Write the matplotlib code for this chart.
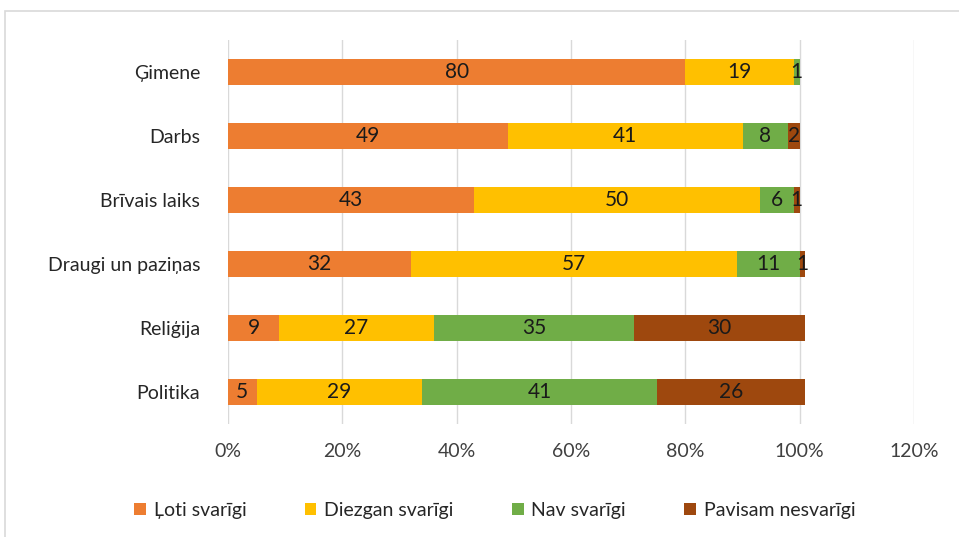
import numpy as np
import matplotlib.pyplot as plt
from matplotlib.patches import Rectangle

# categories top to bottom
categories = ["Ģimene", "Darbs", "Brīvais laiks", "Draugi un paziņas", "Reliģija", "Politika"]
series_names = ["Ļoti svarīgi", "Diezgan svarīgi", "Nav svarīgi", "Pavisam nesvarīgi"]
loti = [80, 49, 43, 32, 9, 5]
diezgan = [19, 41, 50, 57, 27, 29]
nav = [1, 8, 6, 11, 35, 41]
pavisam = [0, 2, 1, 1, 30, 26]
tick_vals = [0, 0.2, 0.4, 0.6, 0.8, 1.0, 1.2]
tick_labels = ["0%", "20%", "40%", "60%", "80%", "100%", "120%"]

colors = ["#ED7D31", "#FFC000", "#70AD47", "#9E480E"]
plt.rcParams['font.family'] = ['Lato', 'DejaVu Sans']

fig = plt.figure(figsize=(9.59, 5.37), dpi=100)
ax = fig.add_axes([0.2377, 0.2104, 0.9531 - 0.2377, 0.9255 - 0.2104])

# outer chart border
fig.patches.append(Rectangle((5 / 959, -0.01), 1.0, 1 - 11 / 537 + 0.01,
                             transform=fig.transFigure, fill=False,
                             edgecolor="#d9d9d9", linewidth=1.2))

y = np.arange(len(categories))
left = np.zeros(len(categories))
for name, vals, col in zip(series_names, [loti, diezgan, nav, pavisam], colors):
    v = np.array(vals) / 100.0
    ax.barh(y, v, left=left, height=0.4, color=col, label=name, zorder=3)
    for yi, (l, w, raw) in enumerate(zip(left, v, vals)):
        if raw > 0:
            ax.text(l + w / 2, yi, str(raw), ha="center", va="center",
                    fontsize=15, color="#1a1a1a", zorder=4)
    left += v

ax.set_xlim(0, 1.2)
ax.set_ylim(len(categories) - 0.5, -0.5)
ax.set_yticks(y)
ax.set_yticklabels(categories, fontsize=14, color="#262626")
ax.set_xticks(tick_vals)
ax.set_xticklabels(tick_labels, fontsize=14, color="#404040")
ax.tick_params(length=0)
ax.tick_params(axis="y", pad=20)
ax.tick_params(axis="x", pad=14)
ax.grid(axis="x", color="#d9d9d9", linewidth=1, zorder=0)
for s in ax.spines.values():
    s.set_visible(False)

fig.legend(loc="center", bbox_to_anchor=(0.516, 0.05), ncol=4, frameon=False,
           fontsize=14, handlelength=0.6, handleheight=0.6, handletextpad=0.4,
           columnspacing=3.0, labelcolor="#262626")

fig.savefig("out.png", dpi=100)
